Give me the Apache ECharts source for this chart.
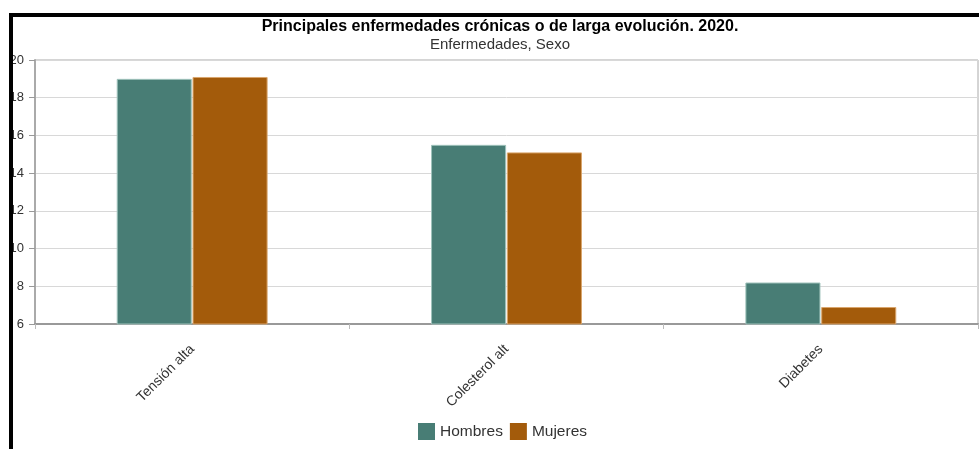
<!DOCTYPE html>
<html>
<head>
<meta charset="utf-8">
<script src="https://cdn.jsdelivr.net/npm/echarts@6/dist/echarts.min.js"></script>
<style>
  html, body { margin: 0; padding: 0; background: #fff; }
  #chart { width: 979px; height: 449px; }
</style>
</head>
<body>
<div id="chart"></div>
<script>
// Enfermedades crónicas por sexo, 2020
const categories = ['Tensión alta', 'Colesterol alt', 'Diabetes'];
const hombres = [19.0, 15.5, 8.2];
const mujeres = [19.1, 15.1, 6.9];
const seriesNames = ['Hombres', 'Mujeres'];

const FONT = '"Liberation Sans", Arial, sans-serif';

const chart = echarts.init(document.getElementById('chart'), null, { renderer: 'canvas' });

chart.setOption({
  backgroundColor: '#fff',
  animation: false,
  textStyle: { fontFamily: FONT },
  title: {
    text: 'Principales enfermedades crónicas o de larga evolución. 2020.',
    subtext: 'Enfermedades, Sexo',
    left: 500,
    textAlign: 'center',
    top: 19,
    padding: 0,
    itemGap: 2,
    textStyle: { fontFamily: FONT, fontSize: 16, fontWeight: 'bold', color: '#000', lineHeight: 16 },
    subtextStyle: { fontFamily: FONT, fontSize: 15, color: '#333', lineHeight: 16 }
  },
  legend: {
    data: seriesNames,
    bottom: 9,
    left: 418,
    padding: 0,
    itemWidth: 17,
    itemHeight: 17,
    itemGap: 7,
    icon: 'rect',
    itemStyle: { borderWidth: 0 },
    textStyle: { fontFamily: FONT, fontSize: 15.5, color: '#333' }
  },
  grid: {
    left: 35, right: 1, top: 60, bottom: 125,
    show: true, borderColor: '#aaa', borderWidth: 1,
    containLabel: false
  },
  xAxis: {
    type: 'category',
    data: categories,
    axisLine: { lineStyle: { color: '#999', width: 2 } },
    axisTick: { show: true, length: 5, lineStyle: { color: '#bbb' } },
    axisLabel: {
      rotate: 45, margin: 23, fontSize: 14, color: '#333', fontFamily: FONT, interval: 0
    }
  },
  yAxis: {
    type: 'value',
    min: 6, max: 20, interval: 2,
    axisLine: { show: true, lineStyle: { color: '#aaa', width: 2 } },
    axisTick: { show: true, length: 6, lineStyle: { color: '#999' } },
    axisLabel: { fontSize: 13, color: '#333', margin: 11, fontFamily: FONT },
    splitLine: { lineStyle: { color: '#d8d8d8' } }
  },
  series: [
    {
      name: seriesNames[0], type: 'bar', data: hombres,
      barGap: '1%', barCategoryGap: '52%',
      itemStyle: { color: '#487d75', borderColor: '#9fc2bb', borderWidth: 1 }
    },
    {
      name: seriesNames[1], type: 'bar', data: mujeres,
      itemStyle: { color: '#a35b0b', borderColor: '#d9a56c', borderWidth: 1 }
    }
  ],
  graphic: [
    // outer black frame (top and left edges)
    { type: 'rect', left: 9, top: 13, shape: { width: 970, height: 4 }, style: { fill: '#000' }, z: 100 },
    { type: 'rect', left: 9, top: 13, shape: { width: 4, height: 436 }, style: { fill: '#000' }, z: 100 }
  ]
});
</script>
</body>
</html>
